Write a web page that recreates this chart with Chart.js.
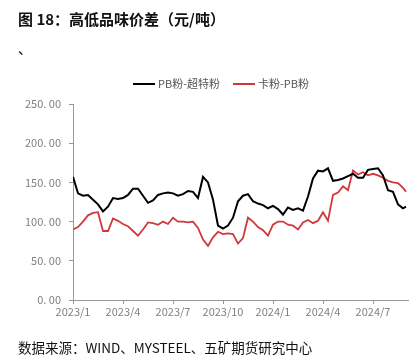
<!DOCTYPE html>
<html>
<head>
<meta charset="utf-8">
<script src="https://cdn.jsdelivr.net/npm/chart.js@4/dist/chart.umd.min.js"></script>
<style>
  html, body { margin:0; padding:0; background:#fff; }
  #wrap { position:relative; width:418px; height:357px; overflow:hidden; font-family:"Noto Sans CJK SC", "Noto Sans", sans-serif; }
  #title { position:absolute; left:18px; top:8px; font-size:15px; font-weight:bold; color:#111; white-space:nowrap; }
  #mark { position:absolute; left:18px; top:38px; font-size:14px; color:#111; }
  #legend { position:absolute; top:75px; left:0; width:418px; font-size:11px; color:#555; }
  .li { position:absolute; top:0; white-space:nowrap; line-height:16px; }
  .sw { display:inline-block; width:22px; height:2px; vertical-align:middle; margin-right:3px; position:relative; top:-1px; }
  #foot { position:absolute; left:18px; top:337px; font-size:13.5px; color:#111; white-space:nowrap; }
  #c { position:absolute; left:0; top:0; }
</style>
</head>
<body>
<div id="wrap">
  <canvas id="c" width="418" height="357"></canvas>
  <div id="title">图 18：高低品味价差（元/吨）</div>
  <div id="mark">、</div>
  <div id="legend">
    <span class="li" style="left:133px"><span class="sw" style="background:#000"></span>PB粉-超特粉</span>
    <span class="li" style="left:233px"><span class="sw" style="background:#D0383C"></span>卡粉-PB粉</span>
  </div>
  <div id="foot">数据来源：WIND、MYSTEEL、五矿期货研究中心</div>
</div>
<script>
// months elapsed since 2023/1 (x positions of samples)
const monthsSince2023Jan = [0.00,0.30,0.60,0.90,1.20,1.50,1.80,2.10,2.40,2.70,3.00,3.30,3.60,3.90,4.20,4.50,4.80,5.10,5.40,5.70,6.00,6.30,6.60,6.90,7.20,7.50,7.80,8.10,8.40,8.70,9.00,9.30,9.60,9.90,10.20,10.50,10.80,11.10,11.40,11.70,12.00,12.30,12.60,12.90,13.20,13.50,13.80,14.10,14.40,14.70,15.00,15.30,15.60,15.90,16.20,16.50,16.80,17.10,17.40,17.70,18.00,18.30,18.60,18.90,19.20,19.50,19.80,19.98];
// PB粉-超特粉
const pbMinusSuper = [157,136,133,134,128,122,113,119,130,129,130,134,142,142,133,124,127,134,136,137,136,133,135,139,138,130,157,150,128,95,91,95,105,126,133,135,126,123,121,117,120,116,109,118,115,117,114,132,155,165,164,168,152,153,155,158,161,156,156,166,167,168,159,140,138,122,117,119];
// 卡粉-PB粉
const kaMinusPb = [90,93,100,108,111,112,88,88,104,101,97,94,88,82,90,99,98,96,100,97,105,100,100,99,100,92,77,69,80,87,84,85,84,72,79,105,100,93,89,82,96,100,100,96,95,90,99,102,98,101,112,101,134,137,145,140,165,160,163,159,161,159,156,152,150,149,143,138];
// x-axis tick labels
const xTickMonths = [0,3,6,9,12,15,18];
const xTickLabels = ["2023/1","2023/4","2023/7","2023/10","2024/1","2024/4","2024/7"];
const yTicks = [0,50,100,150,200,250];

const toPts = (ys) => ys.map((y, i) => ({x: monthsSince2023Jan[i], y}));

new Chart(document.getElementById('c'), {
  type: 'line',
  data: {
    datasets: [
      { label: 'PB粉-超特粉', data: toPts(pbMinusSuper), borderColor: '#000', borderWidth: 2, pointRadius: 0, tension: 0, fill: false },
      { label: '卡粉-PB粉', data: toPts(kaMinusPb), borderColor: '#D0383C', borderWidth: 1.8, pointRadius: 0, tension: 0, fill: false }
    ]
  },
  options: {
    responsive: false,
    animation: false,
    layout: { padding: { left: 0, right: 10, top: 104, bottom: 37 } },
    plugins: { legend: { display: false }, tooltip: { enabled: false } },
    scales: {
      x: {
        type: 'linear', min: 0, max: 20.1,
        afterFit: (s) => { s.height = 20; },
        afterBuildTicks: (s) => { s.ticks = xTickMonths.map(v => ({value: v})); },
        ticks: {
          autoSkip: false, maxRotation: 0, color: '#808080', padding: 1,
          font: { size: 11, family: '"Noto Sans CJK SC", sans-serif' },
          callback: (v) => { const i = xTickMonths.indexOf(v); return i >= 0 ? xTickLabels[i] : ''; }
        },
        grid: { drawOnChartArea: false, drawTicks: true, tickLength: 4, color: '#999' },
        border: { display: true, color: '#999', width: 1 }
      },
      y: {
        min: 0, max: 250,
        afterFit: (s) => { s.width = 73; },
        afterBuildTicks: (s) => { s.ticks = yTicks.map(v => ({value: v})); },
        ticks: {
          color: '#808080', padding: 8,
          font: { size: 11, family: '"Noto Sans CJK SC", sans-serif' },
          callback: (v) => v.toFixed(2).replace('.', '. ')
        },
        grid: { drawOnChartArea: false, drawTicks: true, tickLength: 4, color: '#999' },
        border: { display: true, color: '#999', width: 1 }
      }
    }
  }
});
</script>
</body>
</html>
